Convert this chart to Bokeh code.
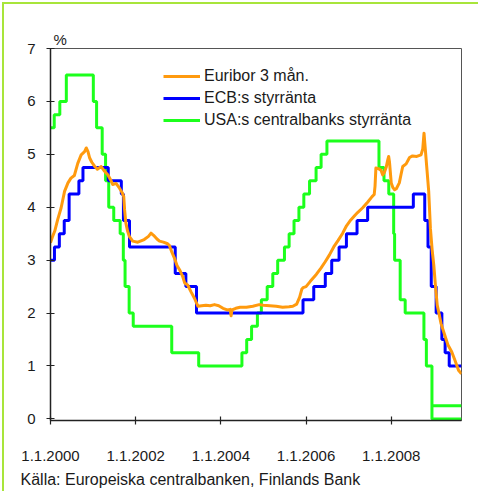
import pandas as pd
from bokeh.plotting import figure
from bokeh.models import FixedTicker, Legend, LegendItem, Range1d, Title
from bokeh.embed import file_html
from bokeh.resources import INLINE

# ---- data ----
ecb_dates = ["2000-01-01", "2000-02-04", "2000-03-17", "2000-04-28", "2000-06-09", "2000-09-01",
             "2000-10-06", "2001-05-11", "2001-08-31", "2001-09-18", "2001-11-09", "2002-12-06",
             "2003-03-07", "2003-06-06", "2005-12-06", "2006-03-08", "2006-06-15", "2006-08-09",
             "2006-10-11", "2006-12-13", "2007-03-14", "2007-06-13", "2008-07-09", "2008-10-15",
             "2008-11-12", "2008-12-10", "2009-01-21", "2009-03-11", "2009-04-08", "2009-05-13",
             "2009-08-26"]
ecb_rates = [3.00, 3.25, 3.50, 3.75, 4.25, 4.50, 4.75, 4.50, 4.25, 3.75, 3.25, 2.75, 2.50, 2.00,
             2.25, 2.50, 2.75, 3.00, 3.25, 3.50, 3.75, 4.00, 4.25, 3.75, 3.25, 2.50, 2.00, 1.50,
             1.25, 1.00, 1.00]

fed_dates = ["2000-01-01", "2000-02-02", "2000-03-21", "2000-05-16", "2001-01-03", "2001-01-31",
             "2001-03-20", "2001-04-18", "2001-05-15", "2001-06-27", "2001-08-21", "2001-09-17",
             "2001-10-02", "2001-11-06", "2001-12-11", "2002-11-06", "2003-06-25", "2004-06-30",
             "2004-08-10", "2004-09-21", "2004-11-10", "2004-12-14", "2005-02-02", "2005-03-22",
             "2005-05-03", "2005-06-30", "2005-08-09", "2005-09-20", "2005-11-01", "2005-12-13",
             "2006-01-31", "2006-03-28", "2006-05-10", "2006-06-29", "2007-09-18", "2007-10-31",
             "2007-12-11", "2008-01-22", "2008-01-30", "2008-03-18", "2008-04-30", "2008-10-08",
             "2008-10-29", "2008-12-16", "2009-08-26"]
fed_rates = [5.50, 5.75, 6.00, 6.50, 6.00, 5.50, 5.00, 4.50, 4.00, 3.75, 3.50, 3.00, 2.50, 2.00,
             1.75, 1.25, 1.00, 1.25, 1.50, 1.75, 2.00, 2.25, 2.50, 2.75, 3.00, 3.25, 3.50, 3.75,
             4.00, 4.25, 4.50, 4.75, 5.00, 5.25, 4.75, 4.50, 4.25, 3.50, 3.00, 2.25, 2.00, 1.50,
             1.00, 0.00, 0.00]
fed_upper_dates = ["2008-12-16", "2009-08-26"]
fed_upper_rates = [0.25, 0.25]

euribor_t = [2000.00, 2000.05, 2000.10, 2000.17, 2000.25, 2000.33, 2000.41, 2000.48, 2000.56,
             2000.64, 2000.72, 2000.80, 2000.84, 2000.88, 2000.92, 2000.97, 2001.03, 2001.10,
             2001.19, 2001.27, 2001.35, 2001.41, 2001.46, 2001.54, 2001.62, 2001.68, 2001.72,
             2001.74, 2001.77, 2001.81, 2001.85, 2001.93, 2002.05, 2002.20, 2002.30, 2002.36,
             2002.42, 2002.50, 2002.56, 2002.65, 2002.75, 2002.79, 2002.85, 2002.91, 2002.97,
             2003.03, 2003.10, 2003.15, 2003.22, 2003.30, 2003.38, 2003.46, 2003.55, 2003.65,
             2003.75, 2003.85, 2003.95, 2004.05, 2004.15, 2004.22, 2004.24, 2004.26, 2004.35,
             2004.45, 2004.60, 2004.75, 2004.90, 2005.00, 2005.15, 2005.30, 2005.45, 2005.60,
             2005.69, 2005.78, 2005.85, 2005.90, 2005.93, 2006.00, 2006.10, 2006.24, 2006.35,
             2006.45, 2006.55, 2006.65, 2006.75, 2006.86, 2006.95, 2007.05, 2007.15, 2007.21,
             2007.33, 2007.45, 2007.55, 2007.60, 2007.62, 2007.64, 2007.70, 2007.76, 2007.80,
             2007.84, 2007.88, 2007.92, 2007.94, 2007.96, 2008.00, 2008.04, 2008.08, 2008.12,
             2008.19, 2008.23, 2008.27, 2008.35, 2008.43, 2008.50, 2008.60, 2008.70, 2008.74,
             2008.76, 2008.77, 2008.79, 2008.81, 2008.84, 2008.88, 2008.92, 2008.96, 2009.00,
             2009.04, 2009.08, 2009.12, 2009.17, 2009.25, 2009.33, 2009.42, 2009.50, 2009.58,
             2009.65]
euribor_v = [3.33, 3.45, 3.55, 3.77, 3.99, 4.30, 4.46, 4.55, 4.60,
             4.83, 4.99, 5.05, 5.12, 5.05, 4.93, 4.85, 4.78, 4.72,
             4.77, 4.68, 4.61, 4.52, 4.43, 4.45, 4.36, 4.28, 4.20,
             3.95, 3.70, 3.55, 3.45, 3.36, 3.34, 3.39, 3.45, 3.51,
             3.47, 3.40, 3.36, 3.34, 3.31, 3.28, 3.15, 3.04, 2.90,
             2.82, 2.70, 2.57, 2.53, 2.40, 2.28, 2.13, 2.14, 2.15,
             2.14, 2.16, 2.14, 2.09, 2.06, 2.07, 1.95, 2.06, 2.09,
             2.11, 2.11, 2.13, 2.16, 2.15, 2.14, 2.13, 2.11, 2.12,
             2.13, 2.17, 2.30, 2.45, 2.48, 2.50, 2.60, 2.73, 2.85,
             2.97, 3.10, 3.25, 3.37, 3.51, 3.65, 3.76, 3.85, 3.90,
             3.99, 4.10, 4.20, 4.24, 4.40, 4.74, 4.73, 4.70, 4.61,
             4.66, 4.75, 4.90, 4.96, 4.85, 4.46, 4.37, 4.33, 4.35,
             4.46, 4.62, 4.77, 4.82, 4.94, 4.97, 4.96, 4.99, 5.10,
             5.30, 5.40, 5.20, 5.00, 4.70, 4.30, 3.60, 3.20, 2.90,
             2.50, 2.15, 2.00, 1.80, 1.60, 1.40, 1.27, 1.10, 0.92,
             0.85]

x_ticks = [2000, 2002, 2004, 2006, 2008]
x_tick_labels = ["1.1.2000", "1.1.2002", "1.1.2004", "1.1.2006", "1.1.2008"]
y_ticks = [0, 1, 2, 3, 4, 5, 6, 7]
legend_labels = ["Euribor 3 mån.", "ECB:s styrränta", "USA:s centralbanks styrränta"]
unit_text = "%"
source_text = "Källa: Europeiska centralbanken, Finlands Bank"


def dec_year(dates):
    d = pd.to_datetime(pd.Series(dates))
    days = d.dt.is_leap_year.map({True: 366.0, False: 365.0})
    return list(d.dt.year + (d.dt.dayofyear - 1) / days)


FONT = "Liberation Sans"
ORANGE = "#ff9a0e"
BLUE = "#0000ff"
GREEN = "#1cff1c"
BORDER = "#a8e53a"
TXT = "#1a1a1a"

p = figure(width=476, height=490, output_backend="svg", toolbar_location=None,
           x_range=Range1d(2000, 2009.65), y_range=Range1d(-0.03, 7),
           min_border_left=46, min_border_top=44, min_border_right=19, min_border_bottom=74)
p.styles = {"border-top": f"2px solid {BORDER}", "border-left": f"2px solid {BORDER}",
            "margin-top": "2px", "margin-left": "2px"}

# unit label "%" above the frame
p.title.text = unit_text
p.title.align = "left"
p.title.offset = 3
p.title.standoff = 2
p.title.text_font = FONT
p.title.text_font_size = "15px"
p.title.text_font_style = "normal"
p.title.text_color = TXT

p.xgrid.visible = False
p.ygrid.visible = False
p.outline_line_color = "#555555"
p.outline_line_width = 1
p.background_fill_color = "white"
p.border_fill_color = "white"

for ax in (p.xaxis[0], p.yaxis[0]):
    ax.axis_line_color = "#222222"
    ax.axis_line_width = 1.5
    ax.major_tick_line_color = "#222222"
    ax.major_tick_line_width = 1.2
    ax.major_tick_in = 4
    ax.major_tick_out = 4
    ax.minor_tick_line_color = None
    ax.major_label_text_font = FONT
    ax.major_label_text_font_size = "15px"
    ax.major_label_text_color = TXT

p.xaxis.ticker = FixedTicker(ticks=x_ticks)
p.xaxis.major_label_overrides = {t: l for t, l in zip(x_ticks, x_tick_labels)}
p.xaxis.major_label_standoff = 26
p.yaxis.ticker = FixedTicker(ticks=y_ticks)
p.yaxis.major_label_standoff = 11

r_fed = p.step(dec_year(fed_dates), fed_rates, mode="after", line_color=GREEN, line_width=3)
p.line(dec_year(fed_upper_dates), fed_upper_rates, line_color=GREEN, line_width=3)
r_ecb = p.step(dec_year(ecb_dates), ecb_rates, mode="after", line_color=BLUE, line_width=3)
r_eur = p.line(euribor_t, euribor_v, line_color=ORANGE, line_width=3, line_join="round")

legend = Legend(items=[LegendItem(label=legend_labels[0], renderers=[r_eur]),
                       LegendItem(label=legend_labels[1], renderers=[r_ecb]),
                       LegendItem(label=legend_labels[2], renderers=[r_fed])],
                location=(113, 290), orientation="vertical")
legend.glyph_width = 37
legend.glyph_height = 20
legend.label_height = 20
legend.label_standoff = 4
legend.spacing = 2
legend.padding = 0
legend.margin = 0
legend.border_line_alpha = 0
legend.background_fill_alpha = 0
legend.label_text_font = FONT
legend.label_text_font_size = "16px"
legend.label_text_color = TXT
p.add_layout(legend, "center")

src = Title(text=source_text, align="left", offset=-30, standoff=11,
            text_font=FONT, text_font_size="16px", text_font_style="normal", text_color=TXT)
p.add_layout(src, "below")

open("out.html", "w").write(file_html(p, INLINE))
